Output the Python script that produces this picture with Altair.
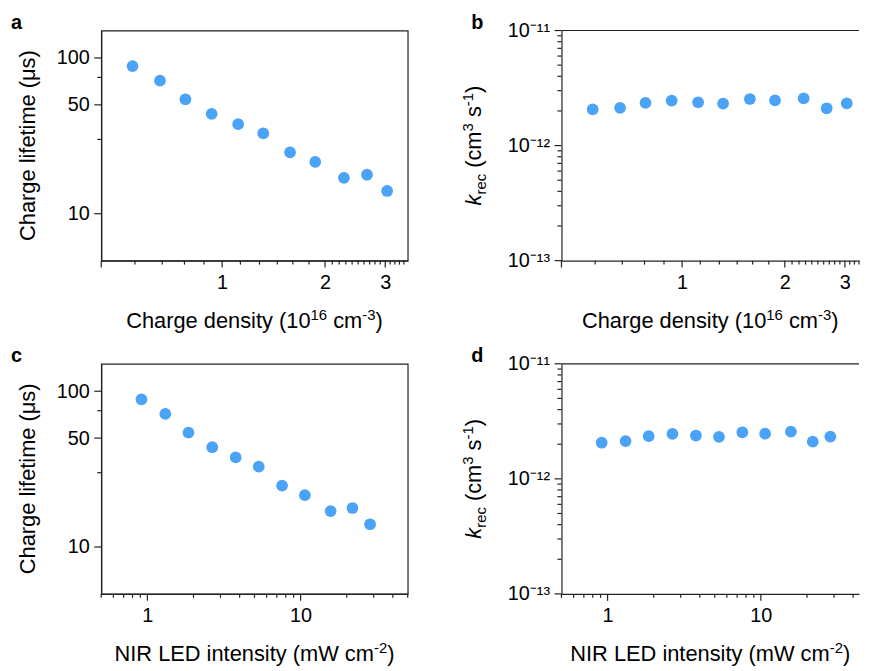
import altair as alt
import pandas as pd

# ---------------- data ----------------
charge_density = [0.547, 0.658, 0.781, 0.932, 1.114, 1.319, 1.580, 1.872, 2.271, 2.653, 3.038]
nir_intensity = [0.915, 1.31, 1.855, 2.65, 3.77, 5.33, 7.57, 10.66, 15.7, 21.8, 28.4]
lifetime_us = [88.7, 71.5, 54.3, 43.7, 37.6, 32.8, 24.8, 21.5, 17.0, 17.8, 14.0]
k_rec = [2.06e-12, 2.13e-12, 2.35e-12, 2.46e-12, 2.38e-12, 2.32e-12,
         2.54e-12, 2.47e-12, 2.57e-12, 2.11e-12, 2.33e-12]

# tick values
dens_major = [0.443, 1, 2, 3]
dens_minor = [0.556, 0.668, 0.776, 0.885, 1.131, 1.286, 1.45, 1.61, 1.795,
              2.1, 2.2, 2.3, 2.4, 2.5, 2.6, 2.7, 2.8, 2.9, 3.1, 3.2, 3.3, 3.4]
int_major = [1, 10]
int_minor = [0.5, 0.6, 0.7, 0.8, 0.9, 2, 3, 4, 5, 6, 7, 8, 9, 20, 30, 40, 50]
life_major = [10, 50, 100]
life_minor = [30, 75]
k_major = [1e-13, 1e-12, 1e-11]
k_minor = [2e-13, 3e-13, 4e-13, 5e-13, 6e-13, 7e-13, 8e-13, 9e-13,
           2e-12, 3e-12, 4e-12, 5e-12, 6e-12, 7e-12, 8e-12, 9e-12]

FONT = "Liberation Sans"
AX = "#222222"
DOT = "#4aa3f7"
W1, W2, H = 309, 300, 232
TITLE = 22
SUB = 15
TICKLAB = 20
MAJ, MIN = 7, 4

# Arial / Liberation Sans advance widths (per 1000 em)
CW = {' ': 278, '(': 333, ')': 333, '-': 333, '0': 556, '1': 556, '2': 556,
      '3': 556, '6': 556, 'C': 722, 'D': 722, 'E': 667, 'I': 278, 'L': 556, 'N': 722,
      'R': 722, 'W': 944, 'a': 556, 'c': 500, 'd': 556, 'e': 556, 'g': 556, 'h': 556,
      'i': 222, 'k': 500, 'm': 833, 'n': 556, 'r': 333, 's': 500, 't': 278, 'y': 500}


def tw(s, size):
    return sum(CW.get(ch, 556) for ch in s) / 1000.0 * size


def text_layer(t, size, x, y, angle=0, weight="normal", style="normal", align="left"):
    kw = dict(align=align, baseline="alphabetic", font=FONT, fontSize=size,
              fontWeight=weight, fontStyle=style, color="black")
    if angle:
        kw["angle"] = angle
    return alt.Chart(pd.DataFrame({"t": [t]})).mark_text(**kw).encode(
        text="t:N", x=alt.value(x), y=alt.value(y))


def hpieces(pieces, cx, base_y):
    total = sum(tw(t, s) for t, s, dy in pieces)
    x = cx - total / 2
    out = []
    for t, s, dy in pieces:
        lead = tw(t[:len(t) - len(t.lstrip(" "))], s)
        out.append(text_layer(t.lstrip(" "), s, x + lead, base_y + dy))
        x += tw(t, s)
    return out


def vpieces(pieces, base_x, cy):
    total = sum(tw(t, s) for t, s, dx, st in pieces)
    y = cy + total / 2
    out = []
    for t, s, dx, st in pieces:
        lead = tw(t[:len(t) - len(t.lstrip(" "))], s)
        out.append(text_layer(t.lstrip(" "), s, base_x + dx, y - lead, angle=270, style=st))
        y -= tw(t, s)
    return out


def label_axis(orient, values, expr):
    return alt.Axis(orient=orient, values=values, labelExpr=expr, title=None, grid=False,
                    ticks=False, domain=True, domainColor=AX, domainWidth=1.2,
                    labelFont=FONT, labelFontSize=TICKLAB, labelColor="black",
                    labelPadding=MAJ + 5, labelFlush=False, labelOverlap=False,
                    labelBound=False)


def inside(vals, dom):
    return [v for v in vals if dom[0] * 0.9999 <= v <= dom[1] * 1.0001]


def xticks(vals, scale, axis, length):
    return alt.Chart(pd.DataFrame({"x": vals})).mark_rule(color=AX, strokeWidth=1.2).encode(
        x=alt.X("x:Q", scale=scale, axis=axis), y=alt.value(H), y2=alt.value(H + length))


def yticks(vals, scale, axis, length):
    return alt.Chart(pd.DataFrame({"y": vals})).mark_rule(color=AX, strokeWidth=1.2).encode(
        y=alt.Y("y:Q", scale=scale, axis=axis), x=alt.value(0), x2=alt.value(-length))


def panel(xs, ys, xdom, ydom, xmaj, xmin, ymaj, ymin, xexpr, yexpr, W, letter,
          xtitle, ytitle_layers, framed):
    df = pd.DataFrame({"x": xs, "y": ys})
    xs_ = alt.Scale(type="log", domain=xdom, nice=False)
    ys_ = alt.Scale(type="log", domain=ydom, nice=False)
    xax = label_axis("bottom", inside(xmaj, xdom), xexpr)
    yax = label_axis("left", inside(ymaj, ydom), yexpr)
    pts = alt.Chart(df).mark_circle(size=140, color=DOT, opacity=1).encode(
        x=alt.X("x:Q", scale=xs_, axis=xax),
        y=alt.Y("y:Q", scale=ys_, axis=yax))
    layers = [xticks(inside(xmaj, xdom), xs_, xax, MAJ),
              xticks(inside(xmin, xdom), xs_, xax, MIN),
              yticks(inside(ymaj, ydom), ys_, yax, MAJ),
              yticks(inside(ymin, ydom), ys_, yax, MIN),
              pts]
    layers.append(text_layer(letter, 20, -91, -2, weight="bold"))
    layers += hpieces(xtitle, W / 2, H + 68)
    layers += ytitle_layers
    if not framed:
        layers.append(alt.Chart(pd.DataFrame({"t": [0]})).mark_rule(
            color=AX, strokeWidth=1.2).encode(
            x=alt.value(0), x2=alt.value(W), y=alt.value(0)))
    ch = alt.layer(*layers).properties(
        width=W, height=H,
        view=alt.ViewBackground(stroke=AX if framed else "transparent", strokeWidth=1.2))
    return ch


dens_title = [("Charge density (10", TITLE, 0), ("16", SUB, -8), (" cm", TITLE, 0),
              ("-3", SUB, -8), (")", TITLE, 0)]
int_title = [("NIR LED intensity (mW cm", TITLE, 0), ("-2", SUB, -8), (")", TITLE, 0)]


def life_ytitle():
    return [text_layer("Charge lifetime (μs)", TITLE, -67, H / 2, angle=270, align="center")]


def k_ytitle():
    return vpieces([("k", TITLE, 0, "italic"), ("rec", SUB, 5, "normal"),
                    (" (cm", TITLE, 0, "normal"), ("3", SUB, -8, "normal"),
                    (" s", TITLE, 0, "normal"), ("-1", SUB, -8, "normal"),
                    (")", TITLE, 0, "normal")], -81, H / 2)


xlab = "datum.value < 0.9 ? '' : format(datum.value, '~g')"
ylab_life = "format(datum.value, '~g')"
ylab_k = "datum.value < 5e-13 ? '10⁻¹³' : (datum.value < 5e-12 ? '10⁻¹²' : '10⁻¹¹')"

pa = panel(charge_density, lifetime_us, [0.443, 3.49], [5, 150], dens_major, dens_minor,
           life_major, life_minor, xlab, ylab_life, W1, "a", dens_title, life_ytitle(), True)
pb = panel(charge_density, k_rec, [0.443, 3.30], [1e-13, 1e-11], dens_major, dens_minor,
           k_major, k_minor, xlab, ylab_k, W2, "b", dens_title, k_ytitle(), False)
pc = panel(nir_intensity, lifetime_us, [0.5, 50], [5, 150], int_major, int_minor,
           life_major, life_minor, xlab, ylab_life, W1, "c", int_title, life_ytitle(), True)
pd_ = panel(nir_intensity, k_rec, [0.5, 43.7], [1e-13, 1e-11], int_major, int_minor,
            k_major, k_minor, xlab, ylab_k, W2, "d", int_title, k_ytitle(), False)

chart = alt.concat(pa, pb, pc, pd_, columns=2, spacing={"row": 104, "column": 155},
                   bounds="flush").properties(
    padding={"left": 2, "top": 1, "right": 0, "bottom": 0}
).configure(font=FONT).configure_view(stroke=AX, strokeWidth=1.2)

chart.save("out.html", embed_options={"renderer": "svg", "actions": False})
